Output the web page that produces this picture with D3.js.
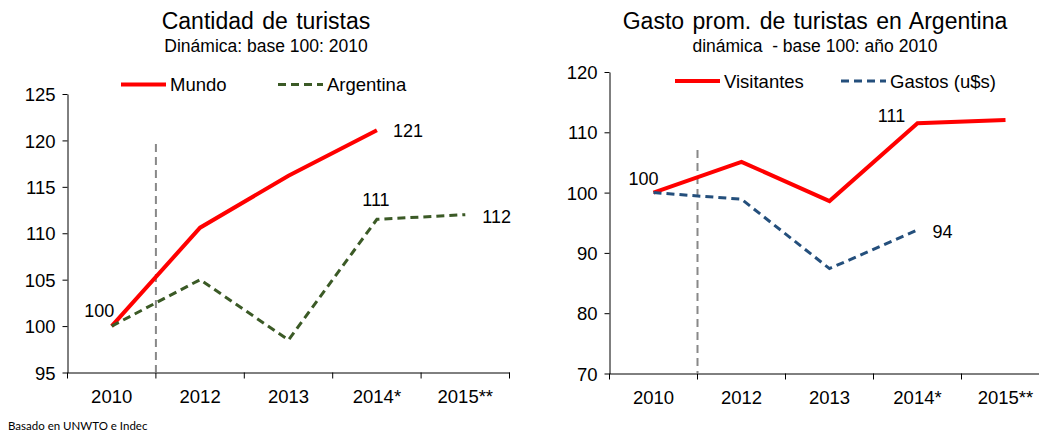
<!DOCTYPE html>
<html>
<head>
<meta charset="utf-8">
<script src="https://cdn.jsdelivr.net/npm/d3@7"></script>
<style>
  body { margin: 0; background: #fff; }
  svg { display: block; font-family: "Liberation Sans", Arial, sans-serif; }
  text { white-space: pre; }
</style>
</head>
<body>
<div id="chart"></div>
<script>
// data
var years = ["2010", "2012", "2013", "2014*", "2015**"];

var mundo = [100, 110.6, 116.2, 121.1, null];
var argentina = [100, 105.0, 98.5, 111.5, 112.0];

var visitantes = [100, 105.1, 98.6, 111.5, 112.05];
var gastos = [100, 98.9, 87.4, 93.8, null];

var leftTicks = [95, 100, 105, 110, 115, 120, 125];
var rightTicks = [70, 80, 90, 100, 110, 120];

var width = 1039, height = 433;

var svg = d3.select("#chart").append("svg")
  .attr("width", width)
  .attr("height", height);

function drawPanel(opt) {
  var g = svg.append("g");

  var x = d3.scaleBand().domain(years).range(opt.xr).padding(0);
  var y = d3.scaleLinear().domain(opt.yd).range(opt.yr);
  var cx = function(i) { return x(years[i]) + x.bandwidth() / 2; };

  // titles
  g.append("text").attr("x", opt.tx).attr("y", 29)
    .attr("text-anchor", "middle").style("font-size", "23px")
    .style("word-spacing", "2px").text(opt.title);
  g.append("text").attr("x", opt.tx).attr("y", 51.5)
    .attr("text-anchor", "middle").style("font-size", "17.5px").text(opt.subtitle);

  // y axis
  var yAxis = g.append("g")
    .attr("transform", "translate(" + opt.xr[0] + ",0)")
    .call(d3.axisLeft(y).tickValues(opt.ticks).tickSize(5).tickSizeOuter(0));
  yAxis.select(".domain").attr("stroke", "#000");
  yAxis.selectAll(".tick line").attr("stroke", "#000");
  yAxis.selectAll(".tick text").attr("x", -12).attr("dy", "0.36em")
    .style("font-size", "18.5px").style("font-family", "Liberation Sans, Arial, sans-serif")
    .attr("fill", "#000");

  // x axis
  var xAxis = g.append("g")
    .attr("transform", "translate(0," + opt.yr[0] + ")")
    .call(d3.axisBottom(x).tickSize(0).tickSizeOuter(0));
  xAxis.select(".domain").attr("stroke", "#000");
  xAxis.selectAll(".tick text").attr("y", 17).attr("dy", "0.71em")
    .style("font-size", "18.5px").style("font-family", "Liberation Sans, Arial, sans-serif")
    .attr("fill", "#000");
  // boundary ticks
  var bounds = years.map(function(d) { return x(d); }).concat([opt.xr[1]]);
  xAxis.selectAll(".bnd").data(bounds).enter().append("line")
    .attr("x1", function(d) { return d; }).attr("x2", function(d) { return d; })
    .attr("y1", 0).attr("y2", 6).attr("stroke", "#000");

  // dashed separator
  g.append("line")
    .attr("x1", x(years[1])).attr("x2", x(years[1]))
    .attr("y1", opt.sepTop).attr("y2", opt.yr[0])
    .attr("stroke", "#888").attr("stroke-width", 2)
    .attr("stroke-dasharray", "8,5");

  // series
  opt.series.forEach(function(s) {
    var line = d3.line()
      .defined(function(d) { return d != null; })
      .x(function(d, i) { return cx(i); })
      .y(function(d) { return y(d); });
    g.append("path").datum(s.values)
      .attr("d", line)
      .attr("fill", "none")
      .attr("stroke", s.color)
      .attr("stroke-width", s.width)
      .attr("stroke-dasharray", s.dash)
      .attr("stroke-linejoin", "miter");

    s.labels.forEach(function(l) {
      g.append("text")
        .attr("x", cx(l.i) + l.dx)
        .attr("y", y(s.values[l.i]) + l.dy)
        .attr("dy", "0.36em")
        .attr("text-anchor", l.anchor)
        .style("font-size", "18px")
        .text(l.text);
    });
  });

  // legend
  opt.series.forEach(function(s, k) {
    var lx = opt.legendX[k];
    g.append("line")
      .attr("x1", lx).attr("x2", lx + 45)
      .attr("y1", opt.legendY).attr("y2", opt.legendY)
      .attr("stroke", s.color).attr("stroke-width", s.width)
      .attr("stroke-dasharray", s.dash);
    g.append("text")
      .attr("x", lx + 49).attr("y", opt.legendY).attr("dy", "0.36em")
      .style("font-size", "18.5px").text(s.name);
  });
}

drawPanel({
  title: "Cantidad de turistas",
  subtitle: "Dinámica: base 100: 2010",
  tx: 266,
  xr: [67.5, 509.5],
  yd: [95, 125],
  yr: [372.5, 94],
  ticks: leftTicks,
  sepTop: 144,
  legendX: [121, 278],
  legendY: 84.5,
  series: [
    { name: "Mundo", values: mundo, color: "#ff0000", width: 4, dash: null,
      labels: [ { i: 0, text: "100", dx: -12.5, dy: -16, anchor: "middle" },
                { i: 3, text: "121", dx: 16, dy: 0, anchor: "start" } ] },
    { name: "Argentina", values: argentina, color: "#3b5a26", width: 3, dash: "8,5",
      labels: [ { i: 3, text: "111", dx: -1, dy: -20, anchor: "middle" },
                { i: 4, text: "112", dx: 17, dy: 2, anchor: "start" } ] }
  ]
});

drawPanel({
  title: "Gasto prom. de turistas en Argentina",
  subtitle: "dinámica  - base 100: año 2010",
  tx: 815,
  xr: [609.5, 1049.5],
  yd: [70, 120],
  yr: [373.5, 72],
  ticks: rightTicks,
  sepTop: 150,
  legendX: [675, 841],
  legendY: 81,
  series: [
    { name: "Visitantes", values: visitantes, color: "#ff0000", width: 4, dash: null,
      labels: [ { i: 0, text: "100", dx: -10, dy: -14, anchor: "middle" },
                { i: 3, text: "111", dx: -26, dy: -8, anchor: "middle" } ] },
    { name: "Gastos (u$s)", values: gastos, color: "#244f7c", width: 3, dash: "8,5",
      labels: [ { i: 3, text: "94", dx: 15, dy: 2, anchor: "start" } ] }
  ]
});

// source note
svg.append("text")
  .attr("x", 8).attr("y", 430)
  .style("font-family", "Lato, 'Open Sans', sans-serif")
  .style("font-size", "11.5px")
  .text("Basado en UNWTO e Indec");
</script>
</body>
</html>
